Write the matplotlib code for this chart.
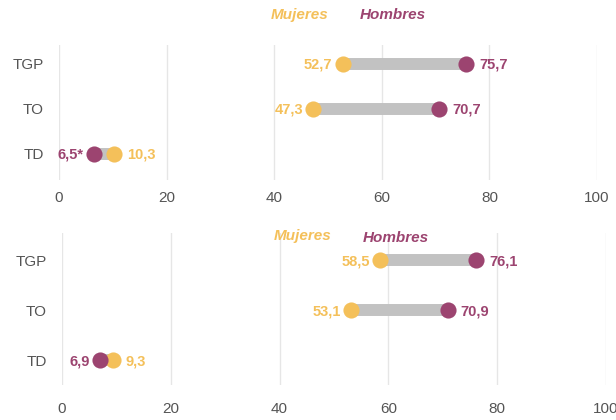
import matplotlib
matplotlib.use("Agg")
import matplotlib.pyplot as plt
import numpy as np

# ─── Data ─────────────────────────────────────────────────────────────────────
CATEGORIES = ['TD', 'TO', 'TGP']          # bottom to top
MUJERES_1 = [10.3, 47.3, 52.7]
HOMBRES_1 = [6.5, 70.7, 75.7]
LABELS_M1 = ['10,3', '47,3', '52,7']
LABELS_H1 = ['6,5*', '70,7', '75,7']

MUJERES_2 = [9.3, 53.1, 58.5]
HOMBRES_2 = [6.9, 70.9, 76.1]
LABELS_M2 = ['9,3', '53,1', '58,5']
LABELS_H2 = ['6,9', '70,9', '76,1']

XTICKS = [0, 20, 40, 60, 80, 100]

# ─── Style ────────────────────────────────────────────────────────────────────
C_MUJ = '#F4C05A'
C_HOM = '#9C4470'
C_BAR = '#C2C2C2'
C_GRID = '#E6E6E6'
C_TICK = '#555555'
LABEL_FONT = ['Liberation Sans Narrow', 'Liberation Sans', 'DejaVu Sans']
TICK_FONT = ['Liberation Sans', 'DejaVu Sans']

fig = plt.figure(figsize=(6.16, 4.2), dpi=100)


def dumbbell(ax, muj, hom, lab_m, lab_h, ylim, xpad):
    y = np.arange(len(CATEGORIES))
    ax.hlines(y, np.minimum(muj, hom), np.maximum(muj, hom),
              color=C_BAR, lw=8.6, capstyle='butt', zorder=2)
    ax.scatter(muj, y, s=135, color=C_MUJ, zorder=3, linewidths=0)
    ax.scatter(hom, y, s=135, color=C_HOM, zorder=4, linewidths=0)

    for yi, m, h, lm, lh in zip(y, muj, hom, lab_m, lab_h):
        for val, txt, col, other in [(m, lm, C_MUJ, h), (h, lh, C_HOM, m)]:
            if val <= other:
                off, ha = -10, 'right'
            else:
                off, ha = 13, 'left'
            ax.annotate(txt, (val, yi), xytext=(off, -1),
                        textcoords='offset pixels', ha=ha, va='center',
                        color=col, fontsize=10.5, fontweight='bold',
                        family=LABEL_FONT, zorder=5)

    ax.set_xlim(0, 100)
    ax.set_ylim(*ylim)
    ax.set_xticks(XTICKS)
    ax.set_yticks(y)
    ax.set_yticklabels(CATEGORIES)
    ax.grid(axis='x', color=C_GRID, lw=1.0, zorder=0)
    ax.set_axisbelow(True)
    for s in ax.spines.values():
        s.set_visible(False)
    ax.tick_params(length=0, labelsize=11, colors=C_TICK)
    ax.tick_params(axis='x', pad=xpad)
    ax.tick_params(axis='y', pad=11)
    for t in ax.get_xticklabels() + ax.get_yticklabels():
        t.set_family(TICK_FONT)


# ─── Top panel ────────────────────────────────────────────────────────────────
ax1 = fig.add_axes([59 / 616, 1 - 180 / 420, 538 / 616, 135 / 420])
dumbbell(ax1, MUJERES_1, HOMBRES_1, LABELS_M1, LABELS_H1, (-0.58, 2.42), 8)
fig.text(300 / 616, 1 - 15 / 420, 'Mujeres', color=C_MUJ, ha='center',
         va='center', fontsize=11, fontweight='bold', style='italic',
         family=LABEL_FONT)
fig.text(393 / 616, 1 - 15 / 420, 'Hombres', color=C_HOM, ha='center',
         va='center', fontsize=11, fontweight='bold', style='italic',
         family=LABEL_FONT)

# ─── Bottom panel ─────────────────────────────────────────────────────────────
ax2 = fig.add_axes([62 / 616, 1 - 385 / 420, 544 / 616, 152 / 420])
dumbbell(ax2, MUJERES_2, HOMBRES_2, LABELS_M2, LABELS_H2, (-0.5, 2.54), 12)
fig.text(303 / 616, 1 - 236 / 420, 'Mujeres', color=C_MUJ, ha='center',
         va='center', fontsize=11, fontweight='bold', style='italic',
         family=LABEL_FONT)
fig.text(396 / 616, 1 - 238 / 420, 'Hombres', color=C_HOM, ha='center',
         va='center', fontsize=11, fontweight='bold', style='italic',
         family=LABEL_FONT)

fig.savefig('out.png', dpi=100)
